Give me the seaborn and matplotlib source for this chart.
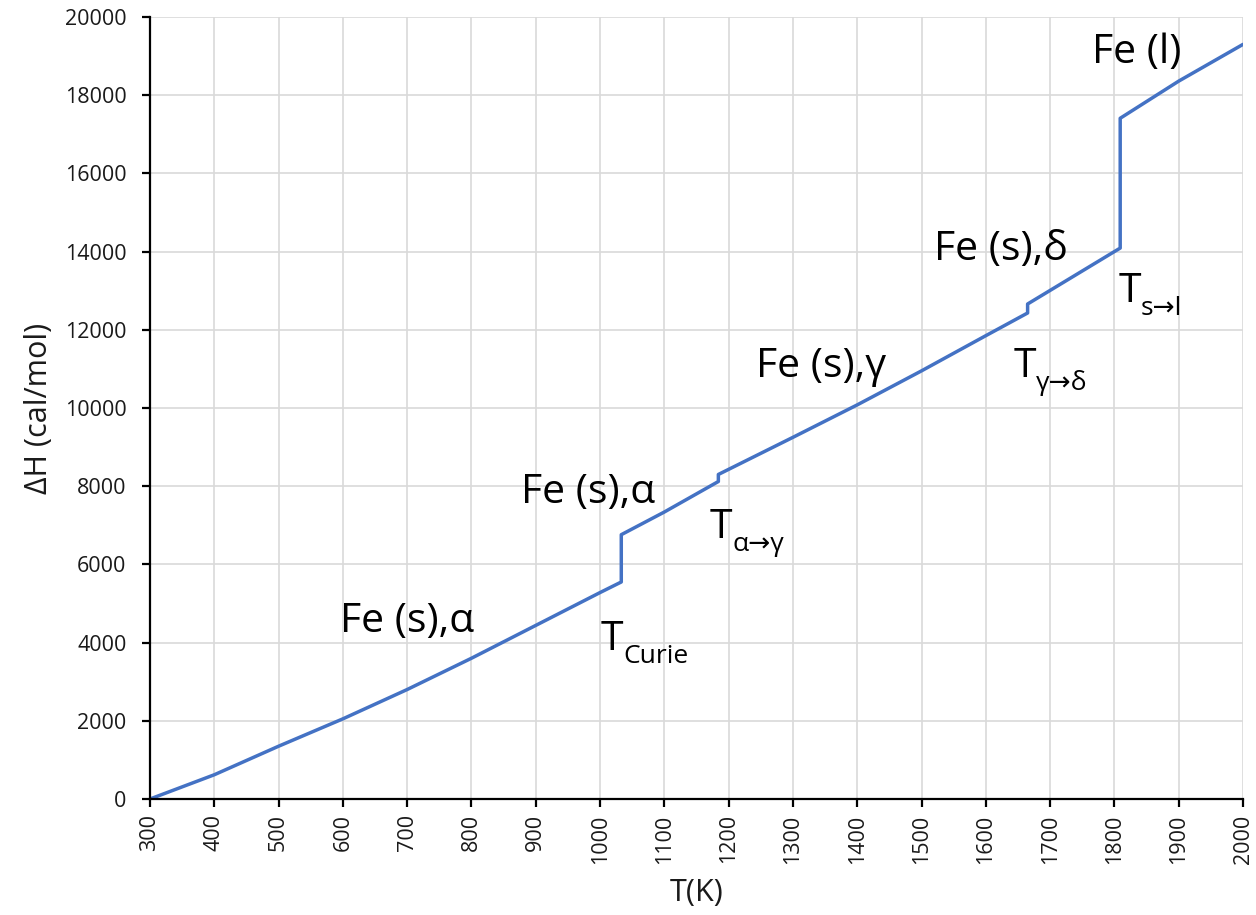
import matplotlib
matplotlib.use("Agg")
import matplotlib.pyplot as plt
import seaborn as sns
import pandas as pd

# Data
T_K = [300, 400, 500, 600, 700, 800, 900, 1000, 1033, 1033, 1100, 1184, 1184,
       1300, 1400, 1500, 1600, 1665, 1665, 1809, 1809, 1900, 2000]
dH = [0, 620, 1350, 2050, 2800, 3600, 4440, 5280, 5550, 6760, 7340, 8120, 8300,
      9250, 10080, 10950, 11850, 12430, 12660, 14090, 17410, 18360, 19300]

phase_labels = ["Fe (s),α", "Fe (s),α", "Fe (s),γ", "Fe (s),δ", "Fe (l)"]
phase_T = [700, 982, 1344, 1623, 1835]
phase_H = [4270, 7570, 10800, 13785, 18824]

trans_sub = ["Curie", "α→γ", "γ→δ", "s→l"]
trans_T = [1018, 1188, 1661, 1824]
trans_H = [3811, 6675, 10793, 12711]

x_ticks = list(range(300, 2001, 100))
y_ticks = list(range(0, 20001, 2000))

sns.set_theme(style="white")
plt.rcParams['font.family'] = ['Open Sans', 'DejaVu Sans']

fig = plt.figure(figsize=(12.56, 9.15), dpi=100)
ax = fig.add_axes([150/1256, 1-799/915, (1243-150)/1256, (799-17)/915])

df = pd.DataFrame({"T": T_K, "H": dH})
sns.lineplot(data=df, x="T", y="H", sort=False, estimator=None,
             color="#4472C4", linewidth=2.5, ax=ax)

ax.set_xlim(300, 2000)
ax.set_ylim(0, 20000)
ax.set_xticks(x_ticks)
ax.set_yticks(y_ticks)
ax.set_xticklabels([str(v) for v in x_ticks], rotation=90, fontsize=15.5, color="#1a1a1a")
ax.set_yticklabels([str(v) for v in y_ticks], fontsize=15.5, color="#1a1a1a")
ax.grid(True, color="#d9d9d9", linewidth=1.2)
ax.set_axisbelow(True)
for s in ["top", "right"]:
    ax.spines[s].set_visible(False)
for s in ["left", "bottom"]:
    ax.spines[s].set_color("black")
    ax.spines[s].set_linewidth(1.6)
ax.tick_params(axis="y", which="major", direction="out", length=6, width=1.6,
               color="black", left=True, pad=11)
ax.tick_params(axis="x", which="major", direction="out", length=6, width=1.6,
               color="black", bottom=True, pad=5)

ax.set_xlabel("T(K)", fontsize=22, color="#1a1a1a", labelpad=10)
ax.set_ylabel("ΔH (cal/mol)", fontsize=22, color="#1a1a1a", labelpad=8)

for lab, tx, hy in zip(phase_labels, phase_T, phase_H):
    ax.text(tx, hy, lab, fontsize=29.5, ha="center", va="baseline", color="black")

for sub, tx, hy in zip(trans_sub, trans_T, trans_H):
    t = ax.text(tx, hy, "T", fontsize=29.5, ha="center", va="baseline", color="black")
    ax.annotate(sub, xy=(1.0, 0.0), xycoords=t, xytext=(0, -2),
                textcoords="offset points", fontsize=19, ha="left",
                va="baseline", color="black")

fig.savefig("out.png", dpi=100)
